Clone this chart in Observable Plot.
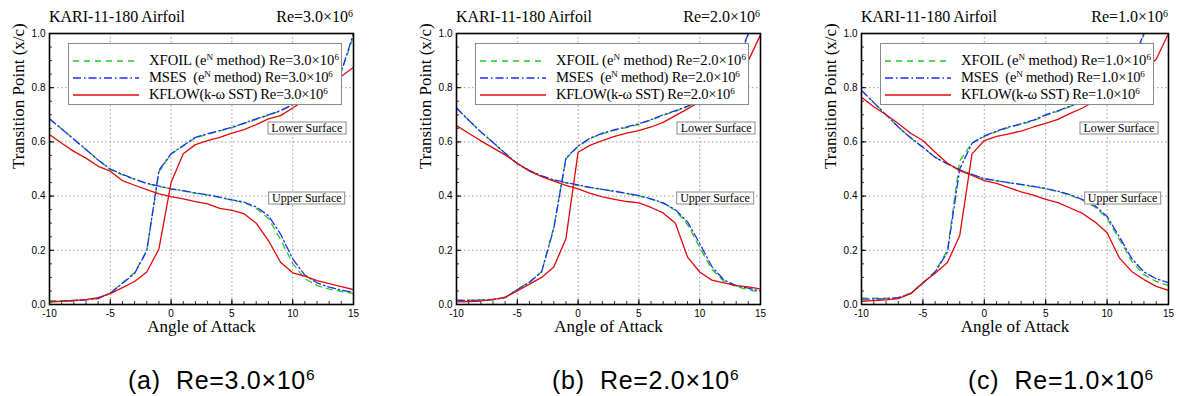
<!DOCTYPE html>
<html>
<head>
<meta charset="utf-8">
<script src="https://cdn.jsdelivr.net/npm/d3@7"></script>
<script src="https://cdn.jsdelivr.net/npm/@observablehq/plot@0.6"></script>
<style>
  html, body { margin: 0; padding: 0; background: white; }
  #root { position: relative; width: 1178px; height: 396px; overflow: hidden; background: white; }
  .panel { position: absolute; top: 0; }
  .panel svg { display: block; }
  .title { position: absolute; top: 8px; font: 16px "Liberation Serif", serif; line-height: 18px; white-space: nowrap; }
  .legend { position: absolute; background: white; border: 1px solid #8a8a8a; box-sizing: border-box;
            font: 14.6px "Liberation Serif", serif; }
  .legend .row { position: absolute; left: 0; height: 17px; line-height: 17px; white-space: pre; }
  .legend .row svg { position: absolute; left: 4px; top: 4px; }
  .legend .row span { position: absolute; left: 80px; top: 0; }
  sup { font-size: 0.62em; line-height: 0; vertical-align: 0.55em; }
  .note { position: absolute; background: white; border: 1px solid #8a8a8a; font: 12px "Liberation Serif", serif;
          line-height: 11px; padding: 0 3px; white-space: nowrap; transform: translate(-50%, -50%); }
  .caption { position: absolute; top: 366px; font: 25px "Liberation Sans", Arial, sans-serif; letter-spacing: 0.7px;
             white-space: pre; line-height: 28px; }
</style>
</head>
<body>
<div id="root"></div>
<script>
// ---- data ----
const aoa = [-10,-9,-8,-7,-6,-5,-4,-3,-2,-1,0,1,2,3,4,5,6,7,8,9,10,11,12,13,14,15];

// Re = 3.0e6
const xfoilLower3 = [0.014,0.014,0.015,0.018,0.023,0.043,0.080,0.118,0.200,0.490,0.555,0.585,0.615,0.628,0.640,0.652,0.667,0.683,0.698,0.714,0.736,0.768,0.798,0.828,0.858,0.990];
const msesLower3  = [0.010,0.012,0.014,0.017,0.022,0.042,0.078,0.115,0.197,0.495,0.556,0.587,0.617,0.630,0.642,0.654,0.669,0.685,0.700,0.716,0.738,0.770,0.800,0.830,0.860,1.000];
const kflowLower3 = [0.010,0.012,0.015,0.018,0.025,0.040,0.062,0.085,0.120,0.205,0.450,0.556,0.590,0.605,0.617,0.632,0.645,0.664,0.685,0.697,0.725,0.755,0.785,0.815,0.842,0.875];
const xfoilUpper3 = [0.685,0.648,0.610,0.572,0.533,0.498,0.478,0.462,0.446,0.436,0.426,0.419,0.411,0.404,0.395,0.385,0.376,0.355,0.318,0.240,0.152,0.095,0.070,0.057,0.048,0.040];
const msesUpper3  = [0.685,0.648,0.610,0.572,0.533,0.500,0.480,0.463,0.447,0.437,0.427,0.420,0.412,0.405,0.396,0.386,0.378,0.360,0.328,0.260,0.168,0.108,0.080,0.064,0.053,0.045];
const kflowUpper3 = [0.627,0.595,0.565,0.540,0.510,0.492,0.457,0.440,0.424,0.408,0.398,0.390,0.380,0.371,0.355,0.347,0.335,0.300,0.236,0.156,0.117,0.105,0.088,0.077,0.066,0.055];

// Re = 2.0e6
const xfoilLower2 = [0.016,0.016,0.017,0.019,0.026,0.056,0.083,0.122,0.285,0.538,0.583,0.612,0.630,0.643,0.653,0.665,0.680,0.698,0.713,0.730,0.750,0.788,0.828,0.880,0.995,null];
const msesLower2  = [0.015,0.015,0.016,0.018,0.025,0.055,0.082,0.120,0.280,0.540,0.585,0.614,0.632,0.645,0.655,0.667,0.682,0.700,0.715,0.732,0.752,0.790,0.830,0.885,1.000,null];
const kflowLower2 = [0.010,0.011,0.013,0.018,0.027,0.050,0.075,0.100,0.138,0.243,0.562,0.588,0.605,0.620,0.632,0.642,0.655,0.672,0.697,0.722,0.748,0.775,0.805,0.845,0.900,0.995];
const xfoilUpper2 = [0.725,0.680,0.637,0.598,0.558,0.518,0.494,0.474,0.459,0.449,0.440,0.431,0.424,0.417,0.409,0.401,0.389,0.373,0.347,0.295,0.210,0.130,0.085,0.066,0.055,0.045];
const msesUpper2  = [0.725,0.680,0.637,0.598,0.558,0.520,0.495,0.475,0.460,0.450,0.441,0.432,0.425,0.418,0.410,0.402,0.390,0.375,0.350,0.305,0.225,0.140,0.090,0.070,0.060,0.050];
const kflowUpper2 = [0.660,0.632,0.604,0.578,0.552,0.521,0.492,0.472,0.455,0.440,0.427,0.410,0.397,0.388,0.380,0.375,0.358,0.338,0.300,0.175,0.120,0.090,0.080,0.070,0.065,0.057];

// Re = 1.0e6
const xfoilLower1 = [0.024,0.023,0.023,0.026,0.042,0.080,0.122,0.200,0.530,0.597,0.620,0.638,0.653,0.665,0.678,0.698,0.713,0.730,0.748,0.772,0.798,0.838,0.885,0.995,null,null];
const msesLower1  = [0.020,0.020,0.021,0.025,0.040,0.078,0.120,0.193,0.500,0.595,0.622,0.640,0.655,0.667,0.680,0.700,0.715,0.732,0.750,0.775,0.800,0.840,0.890,1.000,null,null];
const kflowLower1 = [0.012,0.014,0.017,0.022,0.040,0.080,0.115,0.155,0.255,0.556,0.605,0.620,0.630,0.640,0.655,0.668,0.683,0.705,0.725,0.750,0.775,0.800,0.830,0.865,0.905,1.000];
const xfoilUpper1 = [0.790,0.745,0.700,0.655,0.615,0.580,0.543,0.519,0.497,0.480,0.464,0.456,0.449,0.442,0.435,0.427,0.417,0.403,0.385,0.360,0.318,0.240,0.160,0.110,0.085,0.070];
const msesUpper1  = [0.790,0.745,0.700,0.655,0.615,0.580,0.543,0.519,0.497,0.480,0.464,0.457,0.450,0.443,0.436,0.428,0.418,0.405,0.387,0.365,0.325,0.250,0.170,0.120,0.095,0.080];
const kflowUpper1 = [0.765,0.730,0.700,0.668,0.632,0.605,0.562,0.521,0.494,0.476,0.457,0.447,0.431,0.416,0.404,0.388,0.376,0.356,0.336,0.305,0.265,0.172,0.122,0.092,0.067,0.052];

const reLabels = ["3.0", "2.0", "1.0"];
const captionTags = ["(a)", "(b)", "(c)"];
const xTicks = [-10, -5, 0, 5, 10, 15];
const yTicks = [0, 0.2, 0.4, 0.6, 0.8, 1.0];
const notes = [
  [{text: "Lower Surface", x: 11.2, y: 0.651}, {text: "Upper Surface", x: 11.2, y: 0.390}],
  [{text: "Lower Surface", x: 11.4, y: 0.651}, {text: "Upper Surface", x: 11.3, y: 0.390}],
  [{text: "Lower Surface", x: 11.0, y: 0.651}, {text: "Upper Surface", x: 11.3, y: 0.390}]
];

// ---- styles ----
const methods = [
  {key: "XFOIL", color: "#22cc22", dash: "6,5", spacing: 0, label: (re) => `XFOIL (e<sup>N</sup> method) Re=${re}×10<sup>6</sup>`},
  {key: "MSES",  color: "#1f2cff", dash: "8,3,1.5,3", spacing: -0.2, label: (re) => `MSES  (e<sup>N</sup> method) Re=${re}×10<sup>6</sup>`},
  {key: "KFLOW", color: "#e00a0a", dash: null, spacing: -0.3, label: (re) => `KFLOW(k-ω SST) Re=${re}×10<sup>6</sup>`}
];

const series = [
  {XFOIL: [xfoilLower3, xfoilUpper3], MSES: [msesLower3, msesUpper3], KFLOW: [kflowLower3, kflowUpper3]},
  {XFOIL: [xfoilLower2, xfoilUpper2], MSES: [msesLower2, msesUpper2], KFLOW: [kflowLower2, kflowUpper2]},
  {XFOIL: [xfoilLower1, xfoilUpper1], MSES: [msesLower1, msesUpper1], KFLOW: [kflowLower1, kflowUpper1]}
];

const layout = [
  {left: 0,   width: 400, mr: 47, capLeft: 128},
  {left: 407, width: 400, mr: 47, capLeft: 552},
  {left: 812, width: 366, mr: 10, capLeft: 968}
];

const root = document.getElementById("root");
const ML = 49, MT = 33, MB = 36, H = 340;

layout.forEach((L, i) => {
  const rows = [];
  for (const m of methods) {
    const [low, up] = series[i][m.key];
    aoa.forEach((a, j) => {
      rows.push({method: m.key, surface: "lower", aoa: a, tp: low[j]});
    });
    aoa.forEach((a, j) => {
      rows.push({method: m.key, surface: "upper", aoa: a, tp: up[j]});
    });
  }
  const lineMarks = methods.map(m => Plot.line(rows.filter(r => r.method === m.key), {
    x: "aoa", y: "tp", z: "surface", stroke: m.color, strokeWidth: 1.3,
    strokeDasharray: m.dash, clip: true
  }));

  const plot = Plot.plot({
    width: L.width, height: H,
    marginLeft: ML, marginRight: L.mr, marginTop: MT, marginBottom: MB,
    x: {domain: [-10, 15]},
    y: {domain: [0, 1]},
    style: {background: "white", overflow: "visible"},
    marks: [
      Plot.gridX([-5, 0, 5, 10], {stroke: "#808080", strokeOpacity: 1, strokeDasharray: "1.5,2.5", strokeWidth: 0.8}),
      Plot.gridY([0.2, 0.4, 0.6, 0.8], {stroke: "#808080", strokeOpacity: 1, strokeDasharray: "1.5,2.5", strokeWidth: 0.8}),
      Plot.axisX(d3.range(-10, 16, 1), {anchor: "bottom", tickSize: -3, text: null, label: null, stroke: "#333"}),
      Plot.axisX(xTicks, {anchor: "bottom", tickSize: -5, text: null, label: null, stroke: "#000"}),
      Plot.axisX(xTicks, {anchor: "bottom", tickSize: 0, tickPadding: 5, tickFormat: d => String(d),
        fontSize: 10, fontFamily: "Liberation Sans, Arial, sans-serif", fill: "#000", label: null}),
      Plot.axisY(d3.range(0, 1.0001, 0.05), {anchor: "left", tickSize: -3, text: null, label: null, stroke: "#333"}),
      Plot.axisY(yTicks, {anchor: "left", tickSize: -5, text: null, label: null, stroke: "#000"}),
      Plot.axisY(yTicks, {anchor: "left", tickSize: 0, tickPadding: 4, tickFormat: d3.format(".1f"),
        fontSize: 10, fontFamily: "Liberation Sans, Arial, sans-serif", fill: "#000", label: null}),
      ...lineMarks,
      Plot.frame({stroke: "#000", strokeWidth: 1.6}),
      Plot.text(["Transition Point (x/c)"], {frameAnchor: "left", rotate: -90, dx: -31, text: d => d,
        fontSize: 17, fontFamily: "Liberation Serif, serif", fill: "#000"}),
      Plot.text(["Angle of Attack"], {frameAnchor: "bottom", dy: 27, text: d => d,
        fontSize: 17, fontFamily: "Liberation Serif, serif", fill: "#000"})
    ]
  });

  const panel = document.createElement("div");
  panel.className = "panel";
  panel.style.left = L.left + "px";
  panel.style.width = L.width + "px";
  panel.style.height = H + "px";
  panel.appendChild(plot);

  const xs = plot.scale("x"), ys = plot.scale("y");
  const plotRight = L.width - L.mr;

  const t1 = document.createElement("div");
  t1.className = "title";
  t1.style.left = ML + "px";
  t1.textContent = "KARI-11-180 Airfoil";
  panel.appendChild(t1);

  const t2 = document.createElement("div");
  t2.className = "title";
  t2.style.right = (L.width - plotRight) + "px";
  t2.innerHTML = `Re=${reLabels[i]}×10<sup>6</sup>`;
  panel.appendChild(t2);

  const leg = document.createElement("div");
  leg.className = "legend";
  leg.style.left = (ML + 19) + "px";
  leg.style.top = "43px";
  leg.style.width = "274px";
  leg.style.height = "62px";
  methods.forEach((m, k) => {
    const row = document.createElement("div");
    row.className = "row";
    row.style.top = (8 + k * 17) + "px";
    row.style.width = "270px";
    row.innerHTML = `<svg width="68" height="10"><line x1="0" y1="5" x2="66" y2="5" stroke="${m.color}" stroke-width="1.3" ${m.dash ? `stroke-dasharray="${m.dash}"` : ""}/></svg><span style="letter-spacing:${m.spacing}px">${m.label(reLabels[i])}</span>`;
    leg.appendChild(row);
  });
  panel.appendChild(leg);

  notes[i].forEach(n => {
    const d = document.createElement("div");
    d.className = "note";
    d.style.left = xs.apply(n.x) + "px";
    d.style.top = ys.apply(n.y) + "px";
    d.textContent = n.text;
    panel.appendChild(d);
  });

  root.appendChild(panel);

  const cap = document.createElement("div");
  cap.className = "caption";
  cap.style.left = L.capLeft + "px";
  cap.innerHTML = `${captionTags[i]}  Re=${reLabels[i]}×10<sup>6</sup>`;
  root.appendChild(cap);
});
</script>
</body>
</html>
